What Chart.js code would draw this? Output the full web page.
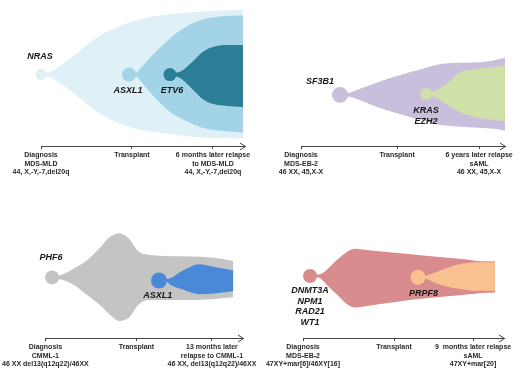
<!DOCTYPE html>
<html>
<head>
<meta charset="utf-8">
<script src="https://cdn.jsdelivr.net/npm/chart.js@4.4.0/dist/chart.umd.min.js"></script>
<style>
  body { margin: 0; background: #fff; }
  #wrap { position: relative; width: 520px; height: 374px; }
  .panel { position: absolute; width: 260px; height: 187px; }
</style>
</head>
<body>
<div id="wrap">
  <div class="panel" style="left:0;top:0"><canvas id="fish1" width="260" height="187"></canvas></div>
  <div class="panel" style="left:260px;top:0"><canvas id="fish2" width="260" height="187"></canvas></div>
  <div class="panel" style="left:0;top:187px"><canvas id="fish3" width="260" height="187"></canvas></div>
  <div class="panel" style="left:260px;top:187px"><canvas id="fish4" width="260" height="187"></canvas></div>
</div>
<script>
// Timeline: 0 = diagnosis, 100 = end of the arrow
// Clone size: half-width above/below the fish midline

// Patient 1
const ticks1 = [0, 44.6, 84.3];
const labels1 = [['Diagnosis', 'MDS-MLD', '44, X,-Y,-7,del20q'], ['Transplant'], ['6 months later relapse', 'to MDS-MLD', '44, X,-Y,-7,del20q']];
const nrasX = [0, 4.4, 12.7, 28.9, 45.1, 61.8, 77.9, 99];
const nrasUp = [1.5, 3, 14, 41, 56, 63, 66, 68];
const nrasLo = [-1.5, -3, -14, -41, -56, -62, -66, -67];
const asxl1X = [43.1, 46.6, 48.5, 54.9, 63.2, 71.6, 79.4, 87.7, 99];
const asxl1Up = [1.5, 2, 6, 21, 38, 51, 58, 61, 62];
const asxl1Lo = [-1.5, -2, -6, -22, -39, -49, -56, -59, -61];
const etv6X = [63.2, 66.2, 69.1, 74.5, 79.4, 84.3, 91.2, 99];
const etv6Up = [1.5, 2, 4, 14, 24, 29, 31, 31];
const etv6Lo = [-1.5, -2, -5, -16, -26, -31, -33, -34];

// Patient 2
const ticks2 = [0, 47.1, 87.3];
const labels2 = [['Diagnosis', 'MDS-EB-2', '46 XX, 45,X-X'], ['Transplant'], ['6 years later relapse', 'sAML', '46 XX, 45,X-X']];
const sf3b1X = [19.1, 23.5, 25.5, 33.8, 42.2, 50, 58.3, 66.7, 74.5, 91.2, 98.5, 100];
const sf3b1Up = [1.5, 2, 3.7, 10.3, 17, 22, 27, 32, 33.7, 35.3, 38.7, 39.3];
const sf3b1Lo = [-1.5, -2, -3, -9.7, -16.3, -21.3, -26.3, -31.3, -33, -35.3, -37, -38];
const krasX = [61.3, 64.2, 71.6, 77.9, 84.3, 93.6, 100];
const krasUp = [2.5, 3, 12, 24, 27, 29.5, 31];
const krasLo = [-0.5, -1, -10, -18, -23, -26, -28];

// Patient 3
const ticks3 = [0, 46.1, 84.3];
const labels3 = [['Diagnosis', 'CMML-1', '46 XX del13(q12q22)/46XX'], ['Transplant'], ['13 months later', 'relapse to CMML-1', '46 XX, del13(q12q22)/46XX']];
const phf6X = [3.4, 7.2, 14.2, 20.6, 27.5, 32.4, 37.3, 42.2, 47.1, 52, 68.1, 84.3, 95.1];
const phf6Up = [1.5, 2, 9, 17.3, 31, 42.3, 46.7, 41, 27.3, 24, 22.3, 21, 17.3];
const phf6Lo = [-1.5, -2, -7.7, -17.7, -29, -39, -46, -42.7, -29, -24, -24, -23, -21];
const asxl1bX = [57.5, 61.6, 63.2, 69.6, 77.9, 86.3, 95.1];
const asxl1bUp = [-1.8, -1.8, -1, 7.3, 14, 10.7, 7.3];
const asxl1bLo = [-4.8, -4.8, -7.7, -12.7, -17.7, -16.7, -14.3];

// Patient 4
const ticks4 = [0, 45.3, 84.6];
const labels4 = [['Diagnosis', 'MDS-EB-2', '47XY+mar[6]/46XY[16]'], ['Transplant'], ['9  months later relapse', 'sAML', '47XY+mar[20]']];
const dnmt3aX = [3.5, 7, 8.5, 12.4, 17.4, 22.4, 25.9, 29.4, 45.8, 62.2, 79.1, 89.1, 95.5];
const dnmt3aUp = [1.5, 1.5, 1.8, 7.7, 17.7, 26, 28.7, 27.7, 24.4, 21, 17.7, 15.4, 15.4];
const dnmt3aLo = [-1.5, -1.5, -2.3, -10.6, -20.6, -30.6, -33.3, -32.3, -27.3, -23.3, -20, -18, -17.3];
const prpf8X = [57.2, 61, 62.2, 70.6, 79.1, 85.6, 95.5];
const prpf8Up = [0.2, 0.2, 1, 7.7, 12.7, 14.4, 14.4];
const prpf8Lo = [-2.8, -2.8, -4, -10.6, -14, -15.6, -15.6];

// a clone = founding circle + filled band between upper and lower edge
function clone(xs, up, lo, color, radius, order) {
  return [
    {
      data: [{ x: xs[0], y: (up[0] + lo[0]) / 2 }],
      showLine: false, pointRadius: radius, pointBackgroundColor: color,
      pointBorderWidth: 0, clip: false, order: order - 0.5
    },
    {
      data: xs.map((x, i) => ({ x: x, y: up[i] })),
      fill: '+1', backgroundColor: color, borderColor: 'transparent', borderWidth: 0,
      pointRadius: 0, tension: 0.4, cubicInterpolationMode: 'monotone', order: order
    },
    {
      data: xs.map((x, i) => ({ x: x, y: lo[i] })),
      fill: false, borderColor: 'transparent', borderWidth: 0,
      pointRadius: 0, tension: 0.4, cubicInterpolationMode: 'monotone', order: order
    }
  ];
}

const geneLabels = {
  id: 'geneLabels',
  afterDatasetsDraw(chart, args, opts) {
    const ctx = chart.ctx;
    const sx = chart.scales.x, sy = chart.scales.y;
    ctx.save();
    ctx.font = 'italic bold 9px "Liberation Sans", Arial, sans-serif';
    ctx.fillStyle = '#161616';
    ctx.textAlign = 'center';
    ctx.textBaseline = 'middle';
    opts.items.forEach(it => {
      const px = sx.getPixelForValue(it.x);
      const py = sy.getPixelForValue(it.y);
      it.text.forEach((t, i) => {
        ctx.fillText(t, px, py + (i - (it.text.length - 1) / 2) * 10.7);
      });
    });
    ctx.restore();
  }
};

const axisArrow = {
  id: 'axisArrow',
  afterDraw(chart) {
    const ctx = chart.ctx;
    const right = chart.chartArea.right;
    const y = Math.round(chart.scales.x.top) + 0.5;
    ctx.save();
    ctx.strokeStyle = '#444';
    ctx.lineWidth = 1;
    ctx.beginPath();
    ctx.moveTo(right - 5, y - 3.5);
    ctx.lineTo(right + 0.5, y);
    ctx.lineTo(right - 5, y + 3.5);
    ctx.stroke();
    ctx.restore();
  }
};

function drawFish(id, datasets, tickPos, tickLabels, yMin, yMax, pad, genes) {
  new Chart(document.getElementById(id), {
    type: 'line',
    data: { datasets: datasets },
    options: {
      responsive: false,
      animation: false,
      events: [],
      layout: { padding: pad },
      scales: {
        x: {
          type: 'linear', min: 0, max: 100,
          afterBuildTicks: s => { s.ticks = tickPos.map(v => ({ value: v })); },
          ticks: {
            autoSkip: false, maxRotation: 0, minRotation: 0, padding: 2,
            color: '#2a2a2a',
            font: { family: '"Liberation Sans", Arial, sans-serif', size: 7, weight: 'bold', lineHeight: 1.2 },
            callback: (v, i) => tickLabels[i]
          },
          grid: { display: true, drawOnChartArea: false, drawTicks: true, tickLength: 3, color: '#444' },
          border: { display: true, color: '#444', width: 1 }
        },
        y: { type: 'linear', display: false, min: yMin, max: yMax }
      },
      plugins: {
        legend: { display: false },
        tooltip: { enabled: false },
        geneLabels: { items: genes }
      }
    },
    plugins: [geneLabels, axisArrow]
  });
}

drawFish('fish1', [
  ...clone(etv6X, etv6Up, etv6Lo, '#2c7d96', 6.5, 1),
  ...clone(asxl1X, asxl1Up, asxl1Lo, '#a3d3e6', 7, 2),
  ...clone(nrasX, nrasUp, nrasLo, '#dff0f7', 5.5, 3)
], ticks1, labels1, -75, 71, { left: 41, right: 15, top: 0, bottom: 8.8 }, [
  { text: ['NRAS'], x: -0.5, y: 19 },
  { text: ['ASXL1'], x: 42.6, y: -17 },
  { text: ['ETV6'], x: 64.2, y: -17 }
]);

drawFish('fish2', [
  ...clone(krasX, krasUp, krasLo, '#cfe0a9', 6, 1),
  ...clone(sf3b1X, sf3b1Up, sf3b1Lo, '#c9bfdd', 8, 2)
], ticks2, labels2, -54, 92, { left: 41, right: 15, top: 0, bottom: 8.8 }, [
  { text: ['SF3B1'], x: 9.3, y: 14 },
  { text: ['KRAS', 'EZH2'], x: 61.3, y: -22 }
]);

drawFish('fish3', [
  ...clone(asxl1bX, asxl1bUp, asxl1bLo, '#4a88d8', 8, 1),
  ...clone(phf6X, phf6Up, phf6Lo, '#c4c4c4', 7, 2)
], ticks3, labels3, -64, 87, { left: 41, right: 15, top: 0, bottom: 3.8 }, [
  { text: ['PHF6'], x: 2.8, y: 20.7 },
  { text: ['ASXL1'], x: 56.9, y: -18.7 }
]);

drawFish('fish4', [
  ...clone(prpf8X, prpf8Up, prpf8Lo, '#f9c18f', 7.5, 1),
  ...clone(dnmt3aX, dnmt3aUp, dnmt3aLo, '#d98c8e', 7, 2)
], ticks4, labels4, -65.3, 85.7, { left: 43, right: 16, top: 0, bottom: 3.8 }, [
  { text: ['DNMT3A', 'NPM1', 'RAD21', 'WT1'], x: 3.5, y: -32.3 },
  { text: ['PRPF8'], x: 59.9, y: -19 }
]);
</script>
</body>
</html>
